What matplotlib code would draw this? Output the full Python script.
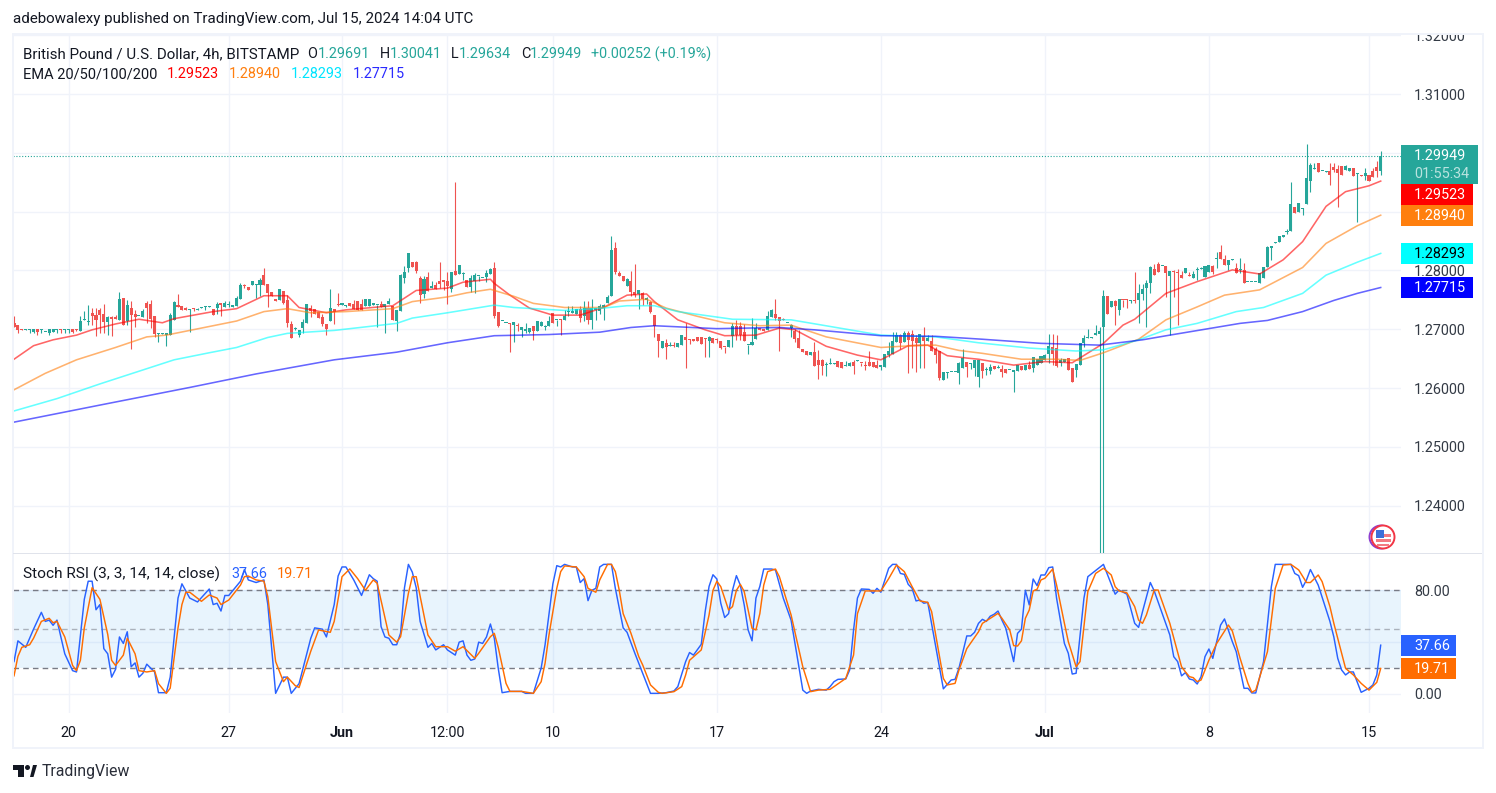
import numpy as np
import matplotlib
matplotlib.use("Agg")
import matplotlib.pyplot as plt
from matplotlib.patches import Rectangle, Circle, Polygon

W, H = 1496, 793

# candles, 4h bars, prices x 10000
opens = [
12711,12707,12700,12699,12698,12696,12700,12699,12695,12693,
12696,12699,12700,12699,12699,12700,12700,12697,12716,12713,
12728,12724,12732,12726,12712,12721,12721,12716,12753,12714,
12736,12726,12722,12721,12745,12743,12723,12692,12692,12690,
12691,12716,12741,12740,12736,12733,12735,12733,12736,12738,
12738,12735,12736,12743,12738,12741,12738,12740,12752,12774,
12772,12775,12776,12775,12792,12777,12763,12752,12750,12765,
12750,12709,12700,12690,12702,12711,12736,12735,12729,12721,
12709,12714,12735,12742,12741,12740,12745,12743,12748,12743,
12740,12740,12742,12741,12743,12738,12743,12740,12714,12731,
12787,12804,12814,12814,12787,12760,12789,12770,12775,12782,
12784,12782,12769,12799,12794,12794,12784,12772,12782,12790,
12787,12789,12794,12804,12729,12714,12710,12710,12707,12707,
12699,12697,12696,12705,12697,12706,12703,12706,12728,12715,
12716,12716,12730,12727,12726,12735,12723,12736,12716,12733,
12731,12736,12745,12757,12838,12796,12791,12774,12782,12764,
12760,12762,12750,12747,12724,12692,12668,12677,12671,12673,
12670,12673,12687,12684,12683,12687,12687,12685,12680,12685,
12682,12680,12670,12670,12689,12706,12706,12695,12673,12673,
12684,12702,12701,12699,12721,12726,12721,12716,12710,12702,
12697,12685,12667,12663,12656,12661,12648,12648,12639,12641,
12641,12646,12644,12638,12637,12644,12646,12643,12638,12644,
12644,12639,12636,12636,12656,12658,12678,12690,12678,12694,
12692,12685,12677,12689,12680,12680,12667,12663,12614,12626,
12627,12627,12626,12634,12644,12641,12634,12619,12642,12631,
12629,12637,12634,12632,12632,12630,12627,12629,12638,12631,
12640,12634,12639,12642,12648,12658,12670,12668,12642,12644,
12651,12634,12631,12639,12676,12685,12685,12691,12692,12704,
12757,12738,12748,12732,12750,12751,12748,12749,12750,12760,
12770,12779,12803,12811,12807,12808,12791,12799,12797,12792,
12796,12792,12787,12801,12802,12789,12798,12808,12819,12831,
12820,12809,12818,12804,12801,12801,12780,12780,12780,12779,
12787,12806,12839,12846,12848,12857,12866,12867,12908,12899,
12904,12913,12952,12973,12983,12969,12968,12969,12976,12973,
12978,12971,12969,12974,12964,12962,12961,12962,12969,12976,12969]
highs = [
12723,12707,12700,12700,12700,12700,12700,12700,12696,12700,
12700,12700,12700,12700,12700,12700,12700,12723,12731,12741,
12736,12736,12736,12743,12723,12723,12724,12763,12753,12750,
12748,12733,12723,12735,12748,12750,12723,12693,12693,12694,
12728,12748,12760,12740,12738,12734,12736,12736,12737,12739,
12739,12735,12746,12743,12748,12748,12741,12757,12779,12777,
12772,12782,12777,12787,12804,12777,12763,12752,12769,12765,
12758,12714,12704,12699,12718,12743,12741,12735,12729,12726,
12709,12769,12735,12762,12745,12741,12745,12750,12748,12752,
12752,12752,12743,12742,12748,12743,12753,12740,12733,12794,
12808,12830,12814,12816,12791,12791,12797,12782,12780,12814,
12784,12797,12797,12951,12809,12797,12784,12792,12796,12790,
12787,12801,12804,12814,12729,12714,12710,12710,12712,12710,
12703,12711,12702,12705,12714,12714,12707,12722,12728,12716,
12718,12733,12740,12740,12735,12740,12748,12748,12752,12736,
12743,12743,12758,12859,12849,12799,12791,12787,12799,12811,
12767,12764,12754,12748,12724,12692,12680,12684,12678,12678,
12677,12690,12711,12684,12683,12687,12687,12685,12689,12685,
12685,12680,12670,12682,12711,12716,12712,12709,12673,12719,
12711,12702,12701,12731,12735,12752,12721,12719,12711,12709,
12701,12699,12667,12663,12661,12678,12665,12650,12644,12651,
12642,12646,12644,12646,12644,12648,12648,12643,12646,12663,
12644,12648,12639,12658,12678,12695,12695,12692,12697,12697,
12699,12690,12692,12704,12690,12690,12670,12663,12627,12627,
12628,12628,12644,12667,12644,12642,12648,12648,12642,12636,
12641,12637,12639,12639,12632,12631,12631,12639,12638,12639,
12646,12652,12649,12654,12658,12692,12692,12690,12651,12649,
12651,12634,12641,12676,12690,12700,12686,12707,12704,12767,
12757,12748,12750,12751,12750,12751,12749,12797,12777,12777,
12784,12808,12811,12814,12808,12808,12799,12801,12803,12799,
12804,12797,12799,12806,12806,12808,12809,12809,12831,12843,
12826,12818,12819,12813,12821,12813,12781,12781,12781,12795,
12806,12842,12840,12849,12859,12860,12870,12951,12908,12915,
12907,13015,12983,12983,12983,12970,12969,12983,12983,12979,
12978,12979,12974,12974,12965,12962,12974,12962,12974,12986,13004]
lows = [
12704,12694,12699,12699,12693,12693,12691,12693,12695,12691,
12696,12693,12694,12694,12694,12693,12697,12697,12716,12707,
12707,12689,12693,12694,12690,12689,12718,12716,12707,12707,
12667,12703,12722,12721,12711,12702,12687,12678,12692,12672,
12691,12716,12738,12733,12733,12695,12731,12733,12736,12733,
12738,12724,12726,12723,12738,12738,12738,12740,12752,12770,
12767,12775,12753,12757,12775,12738,12757,12748,12750,12743,
12704,12685,12699,12687,12694,12711,12721,12726,12719,12706,
12690,12714,12709,12740,12741,12738,12740,12735,12733,12733,
12740,12740,12741,12704,12738,12694,12743,12716,12697,12731,
12779,12797,12806,12796,12745,12753,12765,12770,12769,12770,
12767,12743,12763,12792,12794,12784,12772,12763,12762,12782,
12787,12780,12794,12719,12704,12714,12710,12661,12678,12697,
12687,12694,12694,12682,12697,12706,12699,12706,12711,12706,
12690,12716,12723,12727,12726,12713,12714,12709,12701,12716,
12726,12716,12745,12757,12794,12791,12782,12774,12757,12755,
12735,12741,12743,12728,12687,12653,12668,12650,12671,12670,
12670,12673,12634,12675,12680,12680,12675,12653,12653,12677,
12677,12667,12660,12670,12670,12682,12682,12680,12658,12673,
12684,12699,12697,12699,12721,12716,12663,12715,12710,12687,
12678,12668,12661,12656,12656,12638,12616,12622,12621,12641,
12641,12636,12634,12638,12637,12624,12646,12638,12631,12638,
12636,12634,12631,12636,12653,12658,12678,12667,12678,12626,
12634,12627,12634,12634,12680,12663,12643,12614,12614,12617,
12627,12627,12607,12634,12619,12633,12621,12602,12617,12622,
12624,12632,12634,12619,12625,12630,12594,12629,12631,12631,
12632,12628,12639,12642,12648,12642,12639,12635,12638,12644,
12631,12611,12619,12639,12670,12685,12685,12691,12300,12300,
12726,12738,12707,12724,12738,12736,12744,12744,12711,12750,
12704,12762,12792,12797,12807,12755,12690,12755,12707,12788,
12796,12791,12787,12784,12802,12789,12798,12794,12804,12820,
12809,12801,12818,12796,12796,12779,12780,12780,12780,12779,
12787,12806,12818,12846,12848,12857,12862,12867,12897,12899,
12894,12913,12934,12973,12968,12969,12968,12945,12968,12908,
12962,12971,12969,12961,12882,12961,12954,12952,12959,12959,12963]
closes = [
12704,12699,12699,12700,12700,12700,12695,12700,12696,12700,
12700,12700,12699,12700,12700,12696,12699,12714,12717,12714,
12723,12716,12724,12712,12721,12718,12718,12752,12707,12741,
12724,12721,12723,12731,12736,12718,12692,12693,12693,12694,
12724,12746,12738,12733,12733,12734,12734,12734,12737,12739,
12739,12724,12743,12742,12745,12742,12741,12753,12775,12773,
12767,12782,12777,12784,12775,12762,12757,12748,12769,12745,
12711,12685,12701,12699,12712,12743,12731,12726,12719,12709,
12700,12736,12729,12741,12745,12741,12740,12735,12733,12733,
12752,12752,12742,12742,12738,12743,12748,12716,12733,12792,
12797,12830,12806,12799,12758,12786,12765,12774,12769,12777,
12780,12774,12797,12792,12809,12794,12772,12787,12792,12790,
12787,12796,12803,12723,12706,12714,12710,12709,12712,12705,
12703,12701,12702,12697,12714,12712,12704,12714,12711,12716,
12715,12723,12730,12731,12735,12719,12736,12716,12736,12736,
12740,12741,12755,12835,12798,12791,12782,12786,12764,12758,
12767,12752,12753,12730,12706,12680,12680,12670,12672,12672,
12677,12690,12682,12681,12680,12680,12675,12684,12687,12677,
12681,12668,12669,12682,12706,12690,12690,12680,12673,12678,
12702,12699,12697,12723,12733,12719,12714,12715,12711,12707,
12684,12668,12661,12656,12661,12638,12639,12638,12639,12641,
12642,12636,12634,12638,12643,12638,12647,12642,12637,12638,
12636,12634,12639,12658,12663,12680,12690,12677,12694,12682,
12680,12677,12692,12680,12685,12663,12656,12617,12627,12627,
12628,12628,12643,12651,12636,12642,12648,12648,12629,12632,
12636,12632,12635,12627,12625,12631,12631,12639,12631,12639,
12632,12652,12649,12654,12656,12672,12658,12638,12648,12649,
12631,12611,12641,12676,12685,12686,12686,12692,12697,12757,
12726,12748,12740,12751,12749,12750,12749,12748,12762,12769,
12779,12806,12792,12797,12808,12796,12799,12798,12796,12788,
12804,12791,12794,12802,12803,12808,12809,12797,12820,12820,
12809,12818,12819,12796,12802,12779,12781,12781,12781,12795,
12806,12840,12840,12847,12859,12860,12867,12913,12897,12915,
12905,12957,12979,12974,12968,12970,12969,12962,12971,12966,
12962,12978,12974,12961,12965,12961,12966,12952,12959,12969,12995]

ema20_bars = [0,5,10,16,20,26,32,38,41,51,57,64,70,73,80,85,97,103,111,115,122,123,127,132,138,145,151,157,162,164,170,177,182,190,196,200,208,216,222,229,234,239,244,247,256,264,271,279,284,287,295,303,312,319,325,330,336,341,347,350]
ema20_vals = [12649,12672,12682,12690,12699,12709,12717,12711,12718,12730,12735,12757,12757,12737,12728,12733,12740,12766,12770,12780,12785,12778,12758,12736,12724,12724,12737,12758,12760,12747,12716,12699,12689,12690,12702,12699,12671,12656,12648,12672,12673,12655,12651,12649,12639,12645,12643,12676,12707,12717,12761,12781,12801,12794,12818,12849,12909,12934,12944,12952]
ema50_bars = [0,8,16,26,34,39,48,57,64,70,76,85,97,102,111,116,122,128,133,141,151,155,162,167,175,182,191,199,208,222,230,236,242,248,258,267,273,279,288,295,303,310,319,330,336,344,350]
ema50_vals = [12597,12625,12648,12669,12687,12690,12702,12714,12730,12735,12728,12730,12735,12747,12755,12762,12768,12756,12744,12737,12737,12748,12751,12736,12722,12711,12706,12707,12687,12669,12672,12673,12664,12659,12649,12649,12647,12660,12683,12716,12738,12758,12767,12805,12846,12876,12894]
ema100_bars = [0,11,22,41,50,57,65,70,82,98,102,111,123,128,141,151,157,164,170,184,199,207,222,236,247,260,272,279,288,295,303,313,320,330,336,344,350]
ema100_vals = [12561,12582,12607,12648,12660,12669,12686,12693,12698,12710,12719,12728,12741,12737,12732,12736,12740,12740,12730,12717,12716,12707,12690,12687,12677,12668,12663,12665,12682,12699,12710,12730,12737,12761,12792,12814,12829]
ema200_bars = [0,22,45,62,82,98,111,123,137,150,158,164,180,196,205,222,236,248,263,278,289,296,314,321,330,338,344,350]
ema200_vals = [12542,12571,12601,12624,12648,12661,12677,12689,12691,12695,12703,12706,12701,12703,12699,12689,12688,12683,12676,12673,12682,12690,12710,12715,12730,12749,12761,12771]

# Stoch RSI lines, turning points: bar number and value
k_bars = [0,1,3,5,7,8,9,10,11,13,15,16,18,19,20,21,22,23,24,25,26,27,28,29,30,31,32,33,34,36,37,39,40,42,43,45,47,50,51,52,53,54,55,58,59,60,62,64,65,67,69,70,71,73,76,77,79,80,82,83,84,85,87,89,91,92,93,94,95,96,97,98,99,100,101,102,103,104,106,107,108,110,111,113,114,115,116,117,118,119,120,121,122,123,124,125,127,130,131,133,135,136,138,139,140,141,143,144,145,146,147,148,149,150,151,153,154,156,157,159,161,163,165,167,169,170,172,173,174,176,177,178,179,180,181,182,183,184,185,186,187,188,189,190,191,192,194,195,197,199,202,203,204,206,208,209,210,211,213,214,215,216,217,219,220,221,222,224,225,226,227,228,229,230,231,232,233,234,238,240,241,242,244,245,246,247,248,249,250,251,252,253,254,256,257,258,259,260,261,262,263,264,265,266,267,269,270,271,272,274,275,279,282,283,285,287,288,289,291,292,296,297,298,299,300,301,302,303,304,305,306,307,309,310,312,313,315,316,317,318,320,322,323,327,328,329,330,331,332,334,337,338,339,340,341,342,343,345,347,348,349,350]
k_vals = [25,41,36,50,63,56,57,53,57,31,18,17,73,87,87,65,69,35,31,13,19,44,39,48,21,24,13,16,23,17,1,1,13,74,85,74,71,81,69,70,64,76,76,87,96,88,86,88,69,0.5,13,13,0.5,8,43,51,50,44,69,91,98,98,88,76,92,89,87,52,44,43,38,38,47,82,100,94,82,56,36,39,34,38,34,30,40,41,30,26,27,40,39,44,54,43,20,1,2,2,0.5,0.5,20,38,85,99,98,100,98,98,86,89,72,80,81.5,98,100,100,81.5,51,47.6,31.4,16,0.5,0.5,1,2.3,5.7,25,32,30,38.3,63.5,83,92,88.7,70,59,62,80,91.3,84,68.7,49.4,41,74,83,96.4,96.4,95.7,74,57,3,0.5,2.3,3.6,3,5.7,9.5,11.3,11.6,18.5,49.4,74,81,80.7,77.7,81.5,78.5,97,100,100,93,92.3,84.6,81.5,71.8,72.5,70,70.7,4,10.8,11.3,20,44.8,44.8,47.6,54.5,57.6,56,60,61.5,64,57,50.7,25,46.8,50,80,68.7,88.7,83.6,91.8,91.8,97.5,98,73.8,39,31.4,15.4,16,73.8,90.5,100,77,80.2,77,54.5,51.4,63.5,86,79.5,45.5,28.8,25,14,16.5,11.6,10.8,7.7,13.4,28.8,34.7,27.5,53.2,57.9,40.4,32.7,4.4,4.4,0.8,0.8,25,82.8,100,100,93,91.3,82.3,88,96,84,56,44,27.5,18.5,14.7,17,17,1.3,4.4,7,14.7,37.66]
d_bars = [0,1,2,4,5,7,9,10,11,13,15,16,17,18,20,22,24,25,26,28,29,31,32,34,36,37,39,40,42,43,44,45,48,50,52,53,55,58,59,60,62,64,65,67,69,70,72,73,76,78,81,82,84,86,88,90,92,93,96,98,99,101,102,103,106,108,111,113,115,118,119,122,123,124,126,127,130,133,135,136,137,139,140,141,144,146,147,149,150,152,153,154,155,156,158,160,161,163,165,166,169,171,172,173,176,178,179,180,181,183,184,185,186,187,189,190,191,192,193,195,196,199,202,204,206,209,213,215,216,218,222,224,226,228,230,232,234,235,238,239,241,242,244,247,248,252,253,255,256,257,258,259,260,261,262,263,264,266,267,269,270,272,273,275,277,279,281,282,283,285,287,288,289,290,292,293,296,299,300,301,302,303,304,306,308,311,312,314,316,317,318,321,323,325,327,329,331,332,334,335,337,338,341,343,345,347,349,350]
d_vals = [14,29,36,38,43,56,58.4,55,56,44,22,18,26,51,82,73,46,26,22,30,43,31,18,17,18,8,0.5,4.5,51,69,78.5,78.5,71.5,76.4,74,69,72.5,84,90.5,91,88,87,75,25,9.5,13,6.5,5,33,49.4,47.6,56,90.5,96.5,89,80,88,85.4,45.5,40,44.2,77.7,90.5,90.5,45.5,36.5,36.5,33,36.5,27.5,31.4,44.2,46.8,36,8.2,2,2,0.5,9.5,23.7,45.5,81.5,94.4,98.8,98,90.5,81.5,78.5,88,100,100,94.4,80,62,46.8,28.8,22.4,7,1.3,0.5,1.8,5.7,14.7,26,34,61,80,87,82.8,64.8,67.4,80,84.6,79,50.7,49.4,62,84,94.4,96.4,90.5,61,21,1.8,3,3.6,12,30,62,79.5,79.5,89,99.5,94.4,82.8,71.8,70.7,63.5,12,7,8.2,18.5,35,48,54.5,62.2,58.4,49.4,37.3,37,41,58.4,64.8,79.5,80.8,88,89.3,96.4,84,54.5,40.4,21,25,79,93,97,91.8,82.8,79.5,78,67.4,57,54.5,61,80.2,80.2,54.5,21,17,13.4,12.6,9.5,10.8,26,39,53.2,48.6,27.5,8.2,1.3,3,32.7,81.5,99.5,100,95.7,86,86,91.8,86.7,67.4,54.5,19.8,14.7,8.2,3,9,19.71]

# axis ticks
tick_bars = [14, 55, 84, 111, 138, 180, 222, 264, 306, 347]
tick_labels = ["20", "27", "Jun", "12:00", "10", "17", "24", "Jul", "8", "15"]
price_ticks = [1.24, 1.25, 1.26, 1.27, 1.28, 1.29, 1.30, 1.31, 1.32]
hidden_price_labels = [1.29, 1.30]  # sit behind the axis tags
last_price = 1.29949

UP = "#26a69a"
DOWN = "#ef5350"
TEXT = "#131722"
GRID = "#f0f3fa"
AXIS_TEXT = "#333a45"
FONT = "Roboto"
FS = 10.4

plt.rcParams["font.family"] = [FONT, "DejaVu Sans"]


def axes_px(x0, y0, x1, y1):
    return fig.add_axes([x0 / W, 1 - y1 / H, (x1 - x0) / W, (y1 - y0) / H])


def label(x, y, s, color=TEXT, size=FS, **kw):
    return fig.text(x / W, 1 - (y + 0.5) / H, s, color=color, fontsize=size, va="center", zorder=9, **kw)


def box(x0, y0, x1, y1, color, z=6):
    fig.add_artist(Rectangle((x0 / W, 1 - y1 / H), (x1 - x0) / W, (y1 - y0) / H,
                             transform=fig.transFigure, fc=color, ec="none", zorder=z))


fig = plt.figure(figsize=(W / 100, H / 100), dpi=100, facecolor="white")

# price pane
ax = axes_px(13, 34, 1401, 553)
o = np.array(opens) / 10000
h = np.array(highs) / 10000
l = np.array(lows) / 10000
c = np.array(closes) / 10000
bars = np.arange(len(o))
colors = np.where(c >= o, UP, DOWN)

ax.vlines(bars, l, h, colors=colors, linewidth=0.8, zorder=3)
ax.bar(bars, np.maximum(np.abs(c - o), 0.00018), bottom=np.minimum(o, c), width=0.78,
       color=colors, linewidth=0, zorder=3)

ax.plot(ema20_bars, np.array(ema20_vals) / 10000, color="#ff0000", alpha=0.6, lw=1.15, zorder=4)
ax.plot(ema50_bars, np.array(ema50_vals) / 10000, color="#ff7f0e", alpha=0.6, lw=1.15, zorder=4)
ax.plot(ema100_bars, np.array(ema100_vals) / 10000, color="#00ffff", alpha=0.6, lw=1.15, zorder=4)
ax.plot(ema200_bars, np.array(ema200_vals) / 10000, color="#0000ff", alpha=0.6, lw=1.15, zorder=4)
ax.axhline(last_price, color=UP, lw=0.8, ls=(0, (1, 1.6)), zorder=2)

ax.set_xlim(-0.26, 355.2)
ax.set_ylim(1.23194, 1.32022)
ax.set_xticks(tick_bars)
ax.set_xticklabels([])
ax.set_yticks(price_ticks)
ax.set_yticklabels(["" if p in hidden_price_labels else "%.5f" % p for p in price_ticks],
                   fontsize=FS, color=AXIS_TEXT)
ax.yaxis.tick_right()
ax.tick_params(length=0, pad=9.4)
ax.grid(True, color=GRID, lw=1.0)
ax.set_axisbelow(True)
for s in ax.spines.values():
    s.set_visible(False)

# stoch rsi pane
ax2 = axes_px(13, 554, 1401, 713)
ax2.axhspan(20, 80, color="#2196f3", alpha=0.1, lw=0, zorder=1)
ax2.axhline(80, color="#787b86", lw=1.0, ls=(0, (4, 3)), zorder=2)
ax2.axhline(50, color="#787b86", alpha=0.55, lw=1.0, ls=(0, (4, 3)), zorder=2)
ax2.axhline(20, color="#787b86", lw=1.0, ls=(0, (4, 3)), zorder=2)
ax2.plot(k_bars, k_vals, color="#2962ff", lw=1.05, zorder=3)
ax2.plot(d_bars, d_vals, color="#ff6d00", lw=1.05, zorder=4)
ax2.set_xlim(-0.26, 355.2)
ax2.set_ylim(-14.66, 108)
ax2.set_xticks(tick_bars)
ax2.set_xticklabels(tick_labels, fontsize=FS, color=TEXT)
for t in ax2.get_xticklabels():
    if t.get_text() in ("Jun", "Jul"):
        t.set_fontweight("bold")
ax2.set_yticks([0, 40, 80])
ax2.set_yticklabels(["0.00", "", "80.00"], fontsize=FS, color=AXIS_TEXT)
ax2.yaxis.tick_right()
ax2.tick_params(axis="y", length=0, pad=9.4)
ax2.tick_params(axis="x", length=0, pad=9.5)
ax2.grid(True, color=GRID, lw=1.0)
ax2.set_axisbelow(True)
for s in ax2.spines.values():
    s.set_visible(False)

# frame
box(1401, 20, 1490, 34, "white", z=5)
box(12, 33, 1484, 35, GRID, z=5.5)
box(12, 33, 14, 749, GRID, z=5.5)
box(12, 747, 1484, 749, GRID, z=5.5)
box(1482, 33, 1484, 749, GRID, z=5.5)
box(13, 553, 1482, 554, "#e0e3eb", z=5.5)

# header and legends
label(13, 19, "adebowalexy published on TradingView.com, Jul 15, 2024 14:04 UTC", size=10.87)
label(23, 54, "British Pound / U.S. Dollar, 4h, BITSTAMP", size=10.87)
for x, s, col in [(307, "O", TEXT), (318, "1.29691", UP), (380, "H", TEXT), (390, "1.30041", UP),
                  (451, "L", TEXT), (459, "1.29634", UP), (521, "C", TEXT), (530, "1.29949", UP),
                  (591, "+0.00252 (+0.19%)", UP)]:
    label(x, 54, s, col)
label(23, 74, "EMA 20/50/100/200", size=10.55)
for x, s, col in [(167, "1.29523", "#ff0000"), (229, "1.28940", "#ff7f0e"),
                  (291, "1.28293", "#00e5ff"), (353, "1.27715", "#2a2aff")]:
    label(x, 74, s, col)
label(23, 574, "Stoch RSI (3, 3, 14, 14, close)", size=11.1)
label(231, 574, "37.66", "#2962ff")
label(277, 574, "19.71", "#ff6d00")

# axis tags
box(1401, 145, 1478, 184, UP)
label(1414, 155, "1.29949", "white")
label(1414, 174, "01:55:34", "#b9e3df")
for y0, y1, col, s, tc in [(184, 205, "#ff0000", "1.29523", "white"),
                           (205, 226, "#ff7f0e", "1.28940", "white"),
                           (243, 264, "#00ffff", "1.28293", "black"),
                           (277, 298, "#0000ff", "1.27715", "white")]:
    box(1401, y0, 1473, y1, col)
    label(1414, (y0 + y1) / 2, s, tc)
box(1401, 635, 1456, 656, "#2962ff")
label(1414, 645.5, "37.66", "white")
box(1401, 658, 1456, 679, "#ff6d00")
label(1414, 668.5, "19.71", "white")

# flag icon
fig.add_artist(Circle((13.81, (H - 537) / 100), 0.115, transform=fig.dpi_scale_trans,
                      fc="white", ec="#8e3fd0", lw=1.4, zorder=7))
flag = Circle((13.83, (H - 537) / 100), 0.115, transform=fig.dpi_scale_trans,
              fc="white", ec="#f23645", lw=1.4, zorder=7.1)
fig.add_artist(flag)
box(1376, 534, 1391, 536.5, "#f27a82", z=7.2)
box(1376, 539, 1391, 541.5, "#f27a82", z=7.2)
box(1377, 544, 1389, 545.5, "#f27a82", z=7.2)
box(1376, 530, 1384, 538, "#3d6fd8", z=7.3)

# logo
box(13, 765, 24, 770, TEXT, z=7)
box(18, 765, 24, 777, TEXT, z=7)
fig.add_artist(Circle((0.275, (H - 767.5) / 100), 0.025, transform=fig.dpi_scale_trans,
                      fc=TEXT, ec="none", zorder=7))
fig.add_artist(Polygon([(30 / W, 1 - 777 / H), (33 / W, 1 - 765 / H), (37 / W, 1 - 765 / H), (33.5 / W, 1 - 777 / H)],
                       transform=fig.transFigure, fc=TEXT, ec="none", zorder=7))
label(42, 771, "TradingView", "#2a2e39", size=11.4)

fig.savefig("out.png", dpi=100)
